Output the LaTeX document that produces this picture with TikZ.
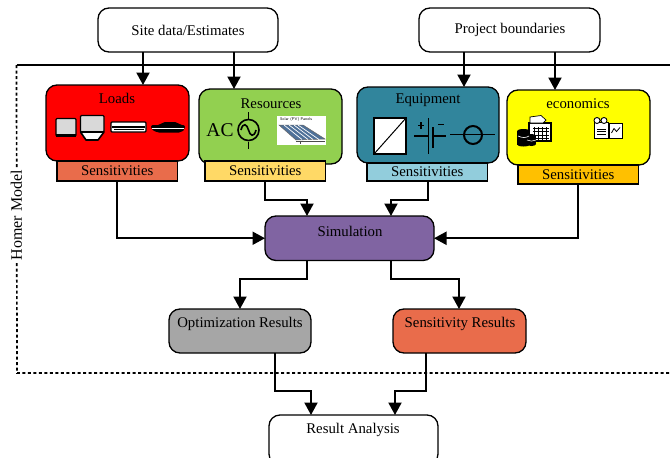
\documentclass[tikz,border=0pt]{standalone}
\usepackage{fontspec}
\setmainfont{Liberation Serif}
\usetikzlibrary{arrows.meta}
\definecolor{cLoad}{HTML}{FF0000}
\definecolor{cLoadS}{HTML}{E96C4B}
\definecolor{cRes}{HTML}{92D050}
\definecolor{cResS}{HTML}{FFD966}
\definecolor{cEq}{HTML}{31859C}
\definecolor{cEqS}{HTML}{92CDDC}
\definecolor{cEco}{HTML}{FFFF00}
\definecolor{cEcoS}{HTML}{FFC000}
\definecolor{cSim}{HTML}{8064A2}
\definecolor{cOpt}{HTML}{A6A6A6}
\definecolor{cPanel}{HTML}{4F7199}
\tikzset{
 x=1pt,y=-1pt,
 rbox/.style={draw=black,line width=1.3pt,outer sep=0pt,rounded corners=11pt,minimum width=#1,inner sep=0pt,anchor=north west,font=\fontsize{14.8}{16}\selectfont,align=center},
 sbox/.style={draw=black,line width=1.3pt,outer sep=0pt,minimum width=120.5pt,minimum height=20pt,inner sep=0pt,anchor=north west,font=\fontsize{14.8}{16}\selectfont},
 lab/.style={inner sep=0pt,font=\fontsize{14.8}{16}\selectfont},
 conn/.style={draw=black,line width=2pt,-{Triangle[length=12.5pt,width=13pt]}},
 icon/.style={draw=black,line width=1pt},
}
\begin{document}
\begin{tikzpicture}
\useasboundingbox (0,0) rectangle (670,458);
% frame
\coordinate (ft0) at (16.5,65); \coordinate (ft1) at (670,65);
\coordinate (fb0) at (17,373); \coordinate (fb1) at (670,373);
\draw[line width=1.7pt,dash pattern=on 3pt off 2.5pt] (ft0) -- (fb0) -- (fb1);
\draw[line width=1.6pt] (ft0) -- (ft1);
\node[lab,rotate=90,fill=white,inner sep=1pt,font=\fontsize{16}{17}\selectfont] (homer) at (16.5,215) {Homer Model};
% inputs
\node[rbox=180pt,minimum height=44pt,fill=white] (site) at (98,8) {};
\node[rbox=181pt,minimum height=44pt,fill=white] (proj) at (419,8) {};
\node[lab] at (188,30) {Site data/Estimates};
\node[lab] at (510,30) {Project boundaries};
% blocks
\node[rbox=143pt,minimum height=76pt,fill=cLoad] (loads) at (46,85) {};
\node[rbox=143pt,minimum height=75pt,fill=cRes] (res) at (199,89) {};
\node[rbox=142pt,minimum height=76pt,fill=cEq] (equip) at (357,87) {};
\node[rbox=143pt,minimum height=75pt,fill=cEco] (eco) at (507,90) {};
\node[sbox,fill=cLoadS] (sl) at (57,161) {Sensitivities};
\node[sbox,fill=cResS] (sr) at (205,161) {Sensitivities};
\node[sbox,fill=cEqS,minimum height=18pt] (se) at (367,163) {Sensitivities};
\node[sbox,fill=cEcoS,minimum height=19pt] (sc) at (518,165) {Sensitivities};
\node[lab] (tl) at (117,98.5) {Loads};
\node[lab] (tr) at (271,104) {Resources};
\node[lab] (te) at (428,100.5) {Equipment};
\node[lab] (tc) at (578,104) {economics};
% simulation & results
\node[rbox=169pt,minimum height=44.5pt,fill=cSim] (sim) at (265,216) {};
\node[lab] at (350,231) {Simulation};
\node[rbox=142pt,minimum height=44pt,fill=cOpt] (opt) at (169,309) {};
\node[lab] at (240,323.5) {Optimization Results};
\node[rbox=133pt,minimum height=44pt,fill=cLoadS] (sens) at (393,309) {};
\node[lab] at (460,323.5) {Sensitivity Results};
\node[rbox=169pt,minimum height=50pt,fill=white] (ra) at (269,415) {};
\node[lab] at (353,430) {Result Analysis};
% connectors
\coordinate (b1) at (265,200); \coordinate (b2) at (307,200);
\coordinate (b3) at (428,200); \coordinate (b4) at (391,200);
\coordinate (b5) at (307,279); \coordinate (b6) at (240,279);
\coordinate (b7) at (391,279); \coordinate (b8) at (459,279);
\coordinate (b9) at (275,391); \coordinate (b10) at (311,391);
\coordinate (b11) at (426,391); \coordinate (b12) at (395,391);
\draw[conn] (site.south west -| 143,0) -- (loads.north west -| 143,0);
\draw[conn] (site.south west -| 234,0) -- (res.north west -| 234,0);
\draw[conn] (proj.south west -| 464,0) -- (equip.north west -| 464,0);
\draw[conn] (proj.south west -| 555,0) -- (eco.north west -| 555,0);
\draw[conn] (sl.south west -| 117,0) |- (sim.west);
\draw[conn] (sr.south west -| b1) -- (b1) -- (b2) -- (sim.north west -| b2);
\draw[conn] (se.south west -| b3) -- (b3) -- (b4) -- (sim.north west -| b4);
\draw[conn] (sc.south west -| 578,0) |- (sim.east);
\draw[conn] (sim.south west -| b5) -- (b5) -- (b6) -- (opt.north west -| b6);
\draw[conn] (sim.south west -| b7) -- (b7) -- (b8) -- (sens.north west -| b8);
\draw[conn] (opt.south west -| b9) -- (b9) -- (b10) -- (ra.north west -| b10);
\draw[conn] (sens.south west -| b11) -- (b11) -- (b12) -- (ra.north west -| b12);
% Loads icons
\draw[icon,fill=black!15,rounded corners=1pt,line width=1.2pt] (56,118.5) rectangle (76,136);
\fill[black] (56,134) rectangle (76,136.5);
\draw[icon,fill=black!15,rounded corners=1pt,line width=1.2pt] (80.5,115.5) rectangle (104,132);
\draw[icon,fill=white,line width=1.6pt,line join=round] (80.5,132) -- (104,132) -- (98,140) -- (86,140) -- cycle;
\draw[icon,fill=white,rounded corners=1pt,line width=1.2pt] (111,122) rectangle (146,132);
\fill[black] (112,125.5) rectangle (145,127.5);
\draw[black,line width=.7pt] (114,129.5) -- (144,129.5);
\fill[black,rounded corners=2pt] (151,125) -- (160,125) -- (163,122) -- (177,122) -- (180,125) -- (185,125) -- (185,129) -- (181,132.5) -- (157,132.5) -- (151,129) -- cycle;
\draw[white,line width=.4pt] (152,128) -- (184,128);
% Resources icons
\node[inner sep=0pt,font=\fontsize{19.5}{20}\selectfont] (ac) at (220,130.5) {AC};
\draw[line width=1.3pt] (248.5,112) -- (248.5,119) (248.5,142) -- (248.5,148.5);
\draw[line width=1.6pt] (248.5,130) circle (10.5pt);
\draw[line width=1.6pt] (241,130) .. controls (243,122) and (247,124) .. (248.5,130) .. controls (250,136) and (254,138) .. (256,130);
\fill[white] (277,116) rectangle (326,145);
\node[inner sep=0pt,font=\fontsize{4}{4}\selectfont\sffamily] at (296,119.5) {Solar (PV) Panels};
\draw[fill=cPanel,draw=black!60,line width=.5pt] (279,125) -- (303,125) -- (325,139) -- (296,140) -- cycle;
\foreach \a/\b in {284/302,289/308,294/313,298/319} \draw[white,line width=.7pt] (\a,125) -- (\b,139.5);
\draw[black!70,line width=.5pt] (296,140.8) -- (325,140.8) (300,140.8) -- (300,144);
% Equipment icons
\draw[icon,fill=white,line width=1.3pt] (374,118) rectangle (406,154);
\draw[line width=1pt] (374,154) -- (406,118);
\draw[line width=1.4pt] (414,136) -- (428,136) (428.5,118) -- (428.5,154);
\draw[line width=2pt] (433,127) -- (433,148);
\draw[line width=1.4pt] (433,136) -- (446,136);
\draw[line width=1.3pt] (418,125.5) -- (424,125.5) (421,122) -- (421,129) (438,124.5) -- (444,124.5);
\draw[line width=1.4pt] (450,134.5) -- (495,134.5);
\draw[line width=2pt] (473,135) circle (9pt);
% Economics icons
\draw[icon,fill=white,line width=1.1pt] (529,123) rectangle (551,141);
\draw[icon,fill=white,line width=.7pt] (530,117) -- (541,115.5) -- (546,120) -- (543,123) -- (530,123) -- cycle;
\foreach \i in {0,1,2,3} \draw[black,line width=.9pt] (533,{128+\i*3.5}) -- (549,{128+\i*3.5});
\foreach \i in {0,1,2,3} \draw[black,line width=.7pt] ({534+\i*4},127) -- ({534+\i*4},140);
\fill[black] (517,131) rectangle (530,144.5);
\fill[black] (523.5,131) ellipse (6.5pt and 2pt);
\fill[black] (523.5,144.5) ellipse (6.5pt and 2pt);
\fill[black] (527,136) rectangle (536,144);
\fill[black] (531.5,136) ellipse (4.5pt and 2pt);
\fill[black] (531.5,144) ellipse (4.5pt and 2pt);
\draw[white,line width=.6pt] (518,136) .. controls (522,138) and (526,138) .. (529,136);
\draw[white,line width=.6pt] (527,140) .. controls (530,141.5) and (533,141.5) .. (536,140);
\draw[icon,fill=white] (594.5,122) rectangle (608,138);
\draw[icon,fill=white] (609.5,123.5) rectangle (622,138);
\draw[black,line width=.8pt] (611.5,133) -- (614,128.5) -- (616.5,131.5) -- (620,127.5);
\foreach \i in {0,1,2} \draw[black,line width=1pt] (597,{129+\i*2.5}) -- (606,{129+\i*2.5});
\draw[line width=.9pt,fill=white] (597,120.5) circle (3pt) (604,120.5) circle (3pt);
\end{tikzpicture}
\end{document}
